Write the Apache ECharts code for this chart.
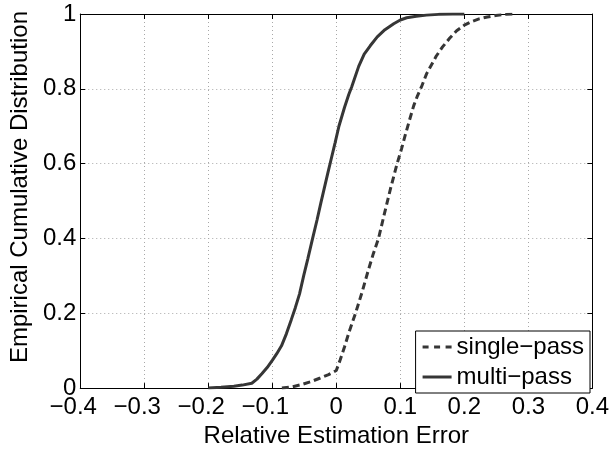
<!DOCTYPE html>
<html>
<head>
<meta charset="utf-8">
<script src="https://cdn.jsdelivr.net/npm/echarts@6/dist/echarts.min.js"></script>
<style>html,body{margin:0;padding:0;background:#fff}#c{width:612px;height:453px}</style>
</head>
<body>
<div id="c"></div>
<script>
const seriesNames = ['single\u2212pass', 'multi\u2212pass'];
const xTicks = [-0.4, -0.3, -0.2, -0.1, 0, 0.1, 0.2, 0.3, 0.4];
const yTicks = [0, 0.2, 0.4, 0.6, 0.8, 1];
const singlePassX = [-0.085, -0.07, -0.055, -0.04, -0.025, -0.012, 0, 0.006, 0.0128, 0.02, 0.03, 0.04, 0.05, 0.058, 0.066, 0.075, 0.085, 0.095, 0.102, 0.108, 0.115, 0.121, 0.127, 0.133, 0.141, 0.156, 0.166, 0.177, 0.188, 0.2, 0.212, 0.223, 0.236, 0.249, 0.265, 0.28];
const singlePassY = [0, 0.003, 0.009, 0.017, 0.027, 0.036, 0.047, 0.075, 0.11, 0.15, 0.2, 0.255, 0.315, 0.36, 0.4, 0.465, 0.535, 0.6, 0.64, 0.678, 0.72, 0.755, 0.782, 0.805, 0.84, 0.887, 0.912, 0.935, 0.955, 0.97, 0.98, 0.987, 0.992, 0.996, 0.999, 1];
const multiPassX = [-0.2, -0.18, -0.16, -0.147, -0.132, -0.124, -0.116, -0.108, -0.1, -0.093, -0.0856, -0.078, -0.0703, -0.064, -0.0574, -0.051, -0.0446, -0.037, -0.03, -0.0241, -0.018, -0.0128, -0.0087, -0.002, 0.0041, 0.0128, 0.0195, 0.024, 0.028, 0.035, 0.0436, 0.053, 0.064, 0.076, 0.0897, 0.1, 0.11, 0.125, 0.141, 0.16, 0.182, 0.2];
const multiPassY = [0, 0.002, 0.005, 0.008, 0.013, 0.024, 0.039, 0.055, 0.074, 0.092, 0.113, 0.145, 0.183, 0.215, 0.252, 0.3, 0.345, 0.4, 0.45, 0.495, 0.54, 0.578, 0.607, 0.655, 0.7, 0.75, 0.785, 0.805, 0.825, 0.86, 0.893, 0.915, 0.939, 0.958, 0.974, 0.984, 0.99, 0.994, 0.997, 0.999, 1, 1];

const zip = (xs, ys) => xs.map((x, i) => [x, ys[i]]);
const FONT = "'Liberation Sans', Arial, Helvetica, sans-serif";
const lineColor = '#363636';
const fmtX = v => {
  const r = Math.round(v * 10) / 10;
  if (r < 0) return '{n|' + String(r).replace('-', '\u2212') + '}{s|}';
  return String(r);
};
const gridLine = { show: true, lineStyle: { color: '#a8a8a8', type: [1, 3], width: 1 } };
const axisLine = { show: true, onZero: false, lineStyle: { color: '#000', width: 1 } };
const tick = { show: true, inside: true, length: 5, lineStyle: { color: '#000' } };
const iconDash = 'path://M0,0H6V3H0Z M11.5,0H17.5V3H11.5Z M23,0H29V3H23Z';
const iconSolid = 'path://M0,0H29V3H0Z';

const chart = echarts.init(document.getElementById('c'), null, { renderer: 'canvas' });
chart.setOption({
  animation: false,
  backgroundColor: '#fff',
  grid: { left: 76, right: 17, top: 14, bottom: 55, containLabel: false },
  legend: {
    data: [{ name: seriesNames[0], icon: iconDash }, { name: seriesNames[1], icon: iconSolid }],
    orient: 'vertical',
    right: 22,
    bottom: 60,
    backgroundColor: '#fff',
    borderColor: '#000',
    borderWidth: 1,
    borderRadius: 0,
    padding: [4, 6, 4, 7],
    itemGap: 6,
    itemWidth: 29,
    itemHeight: 3,
    itemStyle: { color: lineColor, borderWidth: 0 },
    textStyle: { fontFamily: FONT, fontSize: 24, color: '#000' }
  },
  xAxis: [{
    type: 'value', min: xTicks[0], max: xTicks[xTicks.length - 1], interval: 0.1,
    name: 'Relative Estimation Error', nameLocation: 'middle', nameGap: 27,
    nameTextStyle: { fontFamily: FONT, fontSize: 24, color: '#000' },
    axisLine, axisTick: tick, splitLine: gridLine,
    axisLabel: {
      fontFamily: FONT, fontSize: 24, color: '#000', margin: 7, formatter: fmtX,
      rich: {
        n: { fontFamily: FONT, fontSize: 24, color: '#000' },
        s: { width: 14, fontSize: 24 }
      }
    }
  }, {
    type: 'value', position: 'top', min: xTicks[0], max: xTicks[xTicks.length - 1], interval: 0.1,
    axisLine, axisTick: tick, splitLine: { show: false }, axisLabel: { show: false }
  }],
  yAxis: [{
    type: 'value', min: yTicks[0], max: yTicks[yTicks.length - 1], interval: 0.2,
    name: 'Empirical Cumulative Distribution', nameLocation: 'middle', nameGap: 43,
    nameTextStyle: { fontFamily: FONT, fontSize: 24, color: '#000', padding: [0, 0, 0, 28] },
    axisLine, axisTick: tick, splitLine: gridLine,
    axisLabel: { fontFamily: FONT, fontSize: 24, color: '#000', margin: 4, formatter: v => String(Math.round(v * 10) / 10) }
  }, {
    type: 'value', position: 'right', min: yTicks[0], max: yTicks[yTicks.length - 1], interval: 0.2,
    axisLine, axisTick: tick, splitLine: { show: false }, axisLabel: { show: false }
  }],
  series: [{
    name: seriesNames[0], type: 'line', data: zip(singlePassX, singlePassY),
    symbol: 'none', smooth: false, xAxisIndex: 0, yAxisIndex: 0,
    lineStyle: { color: lineColor, width: 3, type: [7, 4] },
    itemStyle: { color: lineColor }
  }, {
    name: seriesNames[1], type: 'line', data: zip(multiPassX, multiPassY),
    symbol: 'none', smooth: false, xAxisIndex: 0, yAxisIndex: 0,
    lineStyle: { color: lineColor, width: 3 },
    itemStyle: { color: lineColor }
  }]
});
</script>
</body>
</html>
